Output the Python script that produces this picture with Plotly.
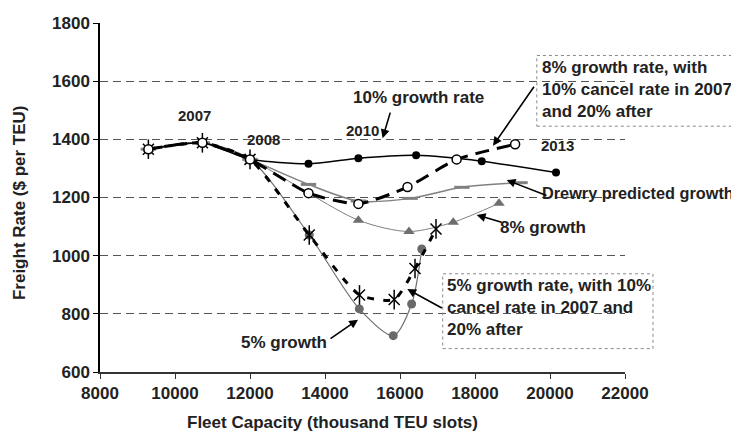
import plotly.graph_objects as go

# ---------------- data ----------------
growth10_x = [9290, 10730, 12000, 13560, 14890, 16430, 18180, 20160]
growth10_y = [1366, 1388, 1331, 1316, 1335, 1345, 1325, 1286]

cancel8_x = [9290, 10730, 12000, 13560, 14890, 16200, 17510, 19070]
cancel8_y = [1366, 1388, 1331, 1215, 1178, 1236, 1331, 1383]

drewry_x = [9290, 10730, 12000, 13560, 14890, 16270, 17650, 19200]
drewry_y = [1366, 1388, 1331, 1245, 1188, 1197, 1235, 1251]

growth8_x = [9290, 10730, 12000, 14890, 16240, 17420, 18640]
growth8_y = [1366, 1388, 1331, 1122, 1083, 1115, 1180]

growth5_x = [9290, 10730, 12000, 13580, 14915, 15820, 16310, 16580]
growth5_y = [1366, 1388, 1331, 1071, 817, 725, 834, 1023]

cancel5_x = [9290, 10730, 12000, 13580, 14920, 15845, 16400, 16960]
cancel5_y = [1366, 1388, 1331, 1071, 865, 849, 956, 1092]

x_ticks = [8000, 10000, 12000, 14000, 16000, 18000, 20000, 22000]
y_ticks = [600, 800, 1000, 1200, 1400, 1600, 1800]

year_labels = ["2007", "2008", "2010", "2013"]
year_pos_x = [10530, 12350, 15010, 20210]
year_pos_y = [1483, 1400, 1431, 1380]

FONT = "Liberation Sans, Arial, sans-serif"
TXT = "#222222"

fig = go.Figure()

# Drewry predicted growth
fig.add_trace(go.Scatter(
    x=drewry_x, y=drewry_y, mode="lines+markers",
    line=dict(color="#808080", width=1.5, shape="spline", smoothing=0.8),
    marker=dict(symbol="line-ew-open", size=11, color="#808080",
                line=dict(color="#808080", width=3)),
    showlegend=False))

# 8% growth
fig.add_trace(go.Scatter(
    x=growth8_x, y=growth8_y, mode="lines+markers",
    line=dict(color="#808080", width=1, shape="spline", smoothing=0.8),
    marker=dict(symbol="triangle-up", size=10, color="#6e6e6e"),
    showlegend=False))

# 5% growth
fig.add_trace(go.Scatter(
    x=growth5_x, y=growth5_y, mode="lines+markers",
    line=dict(color="#707070", width=1.2, shape="spline", smoothing=0.8),
    marker=dict(symbol="circle", size=9, color="#6a6a6a"),
    showlegend=False))

# 10% growth
fig.add_trace(go.Scatter(
    x=growth10_x, y=growth10_y, mode="lines+markers",
    line=dict(color="#000000", width=1.5, shape="spline", smoothing=0.6),
    marker=dict(symbol="circle", size=8, color="#000000"),
    showlegend=False))

# 5% growth with cancellation
fig.add_trace(go.Scatter(
    x=cancel5_x, y=cancel5_y, mode="lines+markers",
    line=dict(color="#000000", width=3, dash="7px,9px", shape="spline", smoothing=0.6),
    marker=dict(symbol="x-thin-open", size=11, color="#000000",
                line=dict(color="#000000", width=1.5)),
    showlegend=False))
fig.add_trace(go.Scatter(
    x=cancel5_x, y=cancel5_y, mode="markers",
    marker=dict(symbol="line-ns-open", size=14, color="#000000",
                line=dict(color="#000000", width=1.5)),
    showlegend=False))

# 8% growth with cancellation
fig.add_trace(go.Scatter(
    x=cancel8_x, y=cancel8_y, mode="lines+markers",
    line=dict(color="#000000", width=3, dash="14px,8px", shape="spline", smoothing=0.6),
    marker=dict(symbol="circle", size=9, color="#ffffff", line=dict(color="#000000", width=1.5)),
    showlegend=False))

annotations = []
for t, ax_, ay_ in zip(year_labels, year_pos_x, year_pos_y):
    annotations.append(dict(x=ax_, y=ay_, text=t, showarrow=False,
                            font=dict(family=FONT, size=15, color=TXT, weight="bold")))

def label(x, y, text, xanchor="center", size=17):
    annotations.append(dict(x=x, y=y, text=text, showarrow=False, xanchor=xanchor,
                            font=dict(family=FONT, size=size, color=TXT, weight="bold")))

def arrow(tx, ty, hx, hy):
    annotations.append(dict(x=hx, y=hy, ax=tx, ay=ty, axref="x", ayref="y", text="",
                            showarrow=True, arrowhead=2, arrowsize=1.1, arrowwidth=1.6,
                            arrowcolor="#000000"))

label(16480, 1545, "10% growth rate")
arrow(15752, 1497, 15536, 1404)
label(19733, 1216, "Drewry predicted growth", "left", 16.3)
arrow(19947, 1205, 18845, 1260)
label(18613, 1098, "8% growth", "left")
arrow(18747, 1113, 18045, 1140)
label(12907, 700, "5% growth")
arrow(14107, 711, 14880, 780)
arrow(19600, 1586, 18480, 1378)
arrow(17155, 817, 16195, 885)

annotations.append(dict(xref="paper", yref="paper", x=0.838, y=0.905, xanchor="left", yanchor="top",
                        align="left", showarrow=False,
                        text="8% growth rate, with<br>10% cancel rate in 2007<br>and 20% after",
                        font=dict(family=FONT, size=17, color=TXT, weight="bold")))
annotations.append(dict(xref="paper", yref="paper", x=0.658, y=0.280, xanchor="left", yanchor="top",
                        align="left", showarrow=False,
                        text="5% growth rate, with 10%<br>cancel rate in 2007 and<br>20% after",
                        font=dict(family=FONT, size=17, color=TXT, weight="bold")))

# axis titles
annotations.append(dict(xref="paper", yref="paper", x=0.442, y=-0.146,
                        xanchor="center", yanchor="middle", showarrow=False,
                        text="Fleet Capacity (thousand TEU slots)",
                        font=dict(family=FONT, size=17, color=TXT, weight="bold")))
annotations.append(dict(xref="paper", yref="paper", x=-0.153, y=0.486,
                        xanchor="center", yanchor="middle", showarrow=False,
                        textangle=-90, text="Freight Rate ($ per TEU)",
                        font=dict(family=FONT, size=17, color=TXT, weight="bold")))

shapes = [
    dict(type="rect", xref="paper", yref="paper", x0=0.832, x1=1.2076, y0=0.7043, y1=0.907,
         line=dict(color="#888888", width=1, dash="dot")),
    dict(type="rect", xref="paper", yref="paper", x0=0.6528, x1=1.0533, y0=0.0671, y1=0.2814,
         line=dict(color="#888888", width=1, dash="dot")),
]

# page body has an 8px default margin, so the plot area is placed 8px up/left
fig.update_layout(
    width=739, height=434,
    margin=dict(l=92, r=122, t=14.5, b=69.5),
    paper_bgcolor="white", plot_bgcolor="white",
    annotations=annotations, shapes=shapes,
    font=dict(family=FONT, color=TXT),
)
fig.update_xaxes(
    range=[8000, 22000], tickvals=x_ticks, ticktext=[str(v) for v in x_ticks],
    automargin=False,
    showgrid=False, zeroline=False, showline=True, linecolor="#333333", linewidth=1.5,
    ticks="outside", ticklen=5, tickcolor="#333333",
    tickfont=dict(family=FONT, size=17, color=TXT, weight="bold"),
)
fig.update_yaxes(
    range=[600, 1800], tickvals=y_ticks, ticktext=[str(v) for v in y_ticks],
    automargin=False,
    showgrid=True, gridcolor="#555555", gridwidth=1, griddash="8px,5px",
    zeroline=False, showline=True, linecolor="#000000", linewidth=1.5,
    ticks="outside", ticklen=5, tickcolor="#000000",
    tickfont=dict(family=FONT, size=17, color=TXT, weight="bold"),
)

fig.write_html("out.html")
